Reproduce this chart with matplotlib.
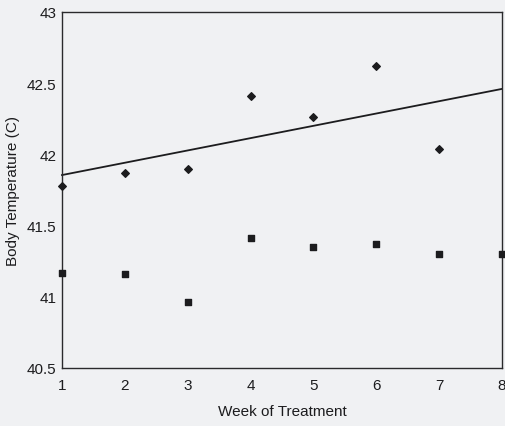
import matplotlib
matplotlib.use("Agg")
import matplotlib.pyplot as plt

plt.rcParams['font.family'] = ['Liberation Sans', 'DejaVu Sans']

weeks_diamond = [1, 2, 3, 4, 5, 6, 7]
temp_diamond = [41.78, 41.87, 41.90, 42.41, 42.26, 42.62, 42.04]
weeks_square = [1, 2, 3, 4, 5, 6, 7, 8]
temp_square = [41.17, 41.16, 40.96, 41.41, 41.35, 41.37, 41.30, 41.30]
trend_x = [1, 8]
trend_y = [41.855, 42.46]

x_ticks = [1, 2, 3, 4, 5, 6, 7, 8]
y_ticks = [40.5, 41, 41.5, 42, 42.5, 43]
y_tick_labels = ["40.5", "41", "41.5", "42", "42.5", "43"]

bg = '#f0f1f3'
ink = '#1c1c1e'

fig = plt.figure(figsize=(5.06, 4.27), dpi=100, facecolor=bg)
ax = fig.add_axes([62/506, 1 - 369/427, (502 - 62)/506, (369 - 13)/427])
ax.set_facecolor(bg)

ax.plot(trend_x, trend_y, color=ink, linewidth=1.3, clip_on=False)
ax.scatter(weeks_diamond, temp_diamond, marker='D', s=15, color=ink, clip_on=False, zorder=3)
ax.scatter(weeks_square, temp_square, marker='s', s=14, color=ink, clip_on=False, zorder=3)

ax.set_xlim(1, 8)
ax.set_ylim(40.5, 43)
ax.set_xticks(x_ticks)
ax.set_yticks(y_ticks)
ax.set_yticklabels(y_tick_labels)
ax.tick_params(length=0, labelsize=11, colors=ink, pad=4)
ax.tick_params(axis='x', pad=7)

for s in ax.spines.values():
    s.set_color('#2a2a2c')
    s.set_linewidth(1.0)

ax.set_xlabel("Week of Treatment", fontsize=11, color=ink, labelpad=9)
ax.set_ylabel("Body Temperature (C)", fontsize=11, color=ink, labelpad=5)

fig.savefig("out.png", dpi=100, facecolor=bg)
